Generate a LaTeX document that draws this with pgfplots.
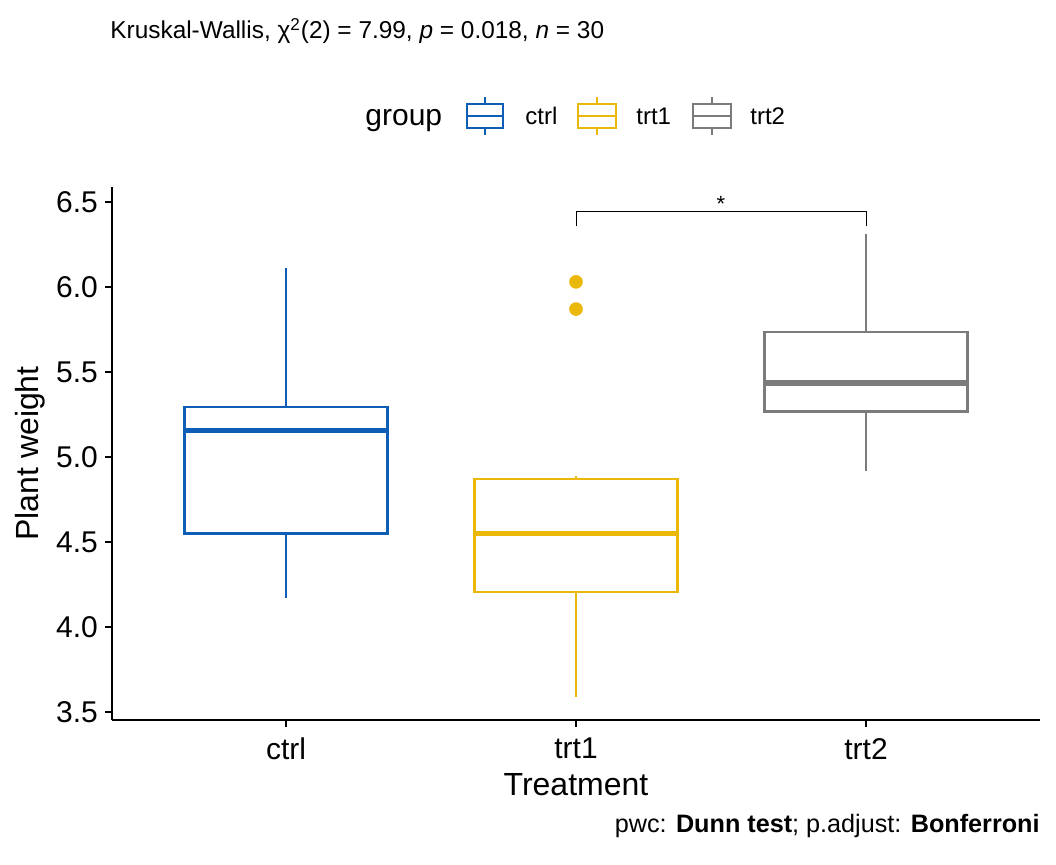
\documentclass[border=0pt]{standalone}
\usepackage{fontspec}
\setmainfont{Liberation Sans}
\usepackage{pgfplots}
\pgfplotsset{compat=1.18}

\definecolor{jcoblue}{RGB}{14,94,182}
\definecolor{jcoyellow}{RGB}{234,184,10}
\definecolor{jcogray}{RGB}{123,123,123}

% legend key: small box glyph
\newcommand{\legendkey}[3]{% colour, left x, right x
  \draw[#1, line width=1.1pt] (#2,368) rectangle (#3,380);
  \draw[#1, line width=1.1pt] (#2,374) -- (#3,374);
  \draw[#1, line width=1.1pt] ({(#2+#3)/2},380) -- ({(#2+#3)/2},383.5);
  \draw[#1, line width=1.1pt] ({(#2+#3)/2},368) -- ({(#2+#3)/2},364.5);
}

% box-and-whisker glyph in axis units
% #1 colour, #2 centre, #3 left, #4 right,
% #5 lower whisker, #6 lower quartile, #7 median, #8 upper quartile, #9 upper whisker
\newcommand{\tukeybox}[9]{%
  \addplot[#1, line width=1.1pt] coordinates {(#2,#6) (#2,#5)};
  \addplot[#1, line width=1.1pt] coordinates {(#2,#8) (#2,#9)};
  \addplot[#1, line width=1.1pt, fill=white, line join=miter]
    coordinates {(#3,#6) (#4,#6) (#4,#8) (#3,#8)} -- cycle;
  \addplot[#1, line width=2.6pt] coordinates {(#3,#7) (#4,#7)};
}

\begin{document}
\begin{tikzpicture}[x=1pt,y=1pt]
\path[use as bounding box] (0,0) rectangle (528,432);

% title
\node[anchor=base west, inner sep=0pt, font=\fontsize{12.2}{15}\selectfont]
  at (55,412.5) {Kruskal-Wallis, χ\textsuperscript{2}(2) = 7.99, \textit{p} = 0.018, \textit{n} = 30};

% legend
\node[anchor=base west, inner sep=0pt, font=\fontsize{15}{17}\selectfont] at (182.5,369) {group};
\legendkey{jcoblue}{233.5}{251.5}
\node[anchor=base west, inner sep=0pt, font=\fontsize{12}{14}\selectfont] at (262.5,369.5) {ctrl};
\legendkey{jcoyellow}{289}{308}
\node[anchor=base west, inner sep=0pt, font=\fontsize{12}{14}\selectfont] at (318,369.5) {trt1};
\legendkey{jcogray}{346.5}{365.5}
\node[anchor=base west, inner sep=0pt, font=\fontsize{12}{14}\selectfont] at (375,369.5) {trt2};

% caption
\node[anchor=base east, inner sep=0pt, font=\fontsize{12.6}{14}\selectfont]
  at (520,16) {pwc: \textbf{Dunn test}; p.adjust: \textbf{Bonferroni}};

\begin{axis}[
  at={(56pt,72pt)}, anchor=south west,
  scale only axis, width=464pt, height=266.5pt,
  xmin=0.4, xmax=3.6, ymin=3.453, ymax=6.588,
  axis lines=left, axis line style={-, line width=1.3pt, black},
  xtick={1,2,3}, xticklabels={ctrl,trt1,trt2},
  ytick={3.5,4,...,6.5},
  yticklabel style={/pgf/number format/fixed, /pgf/number format/fixed zerofill, /pgf/number format/precision=1},
  xticklabel style={yshift=-2pt},
  /pgf/number format/assume math mode=true,
  tick align=outside, major tick length=3.5pt,
  tick style={line width=1.3pt, black},
  ticklabel style={font=\fontsize{15}{17}\selectfont},
  xlabel={Treatment}, ylabel={Plant weight},
  label style={font=\fontsize{16}{18}\selectfont},
  xlabel style={at={(axis description cs:0.5,-0.122)}, anchor=center},
  ylabel style={at={(axis description cs:-0.0884,0.5)}, anchor=center, rotate=0},
  clip=false,
]
% ctrl
\tukeybox{jcoblue}{1}{0.65}{1.35}{4.17}{4.55}{5.155}{5.2925}{6.11}
% trt1
\tukeybox{jcoyellow}{2}{1.65}{2.35}{3.59}{4.2075}{4.55}{4.87}{4.89}
\addplot[only marks, mark=*, mark size=3.2pt, color=jcoyellow,
  mark options={fill=jcoyellow, draw=jcoyellow}] coordinates {(2,5.87) (2,6.03)};
% trt2
\tukeybox{jcogray}{3}{2.65}{3.35}{4.92}{5.2675}{5.435}{5.735}{6.31}
% significance bracket trt1 vs trt2
\addplot[black, line width=0.5pt] coordinates {(2,6.357) (2,6.441) (3,6.441) (3,6.357)};
\node[anchor=base, inner sep=0pt, font=\fontsize{11}{13}\selectfont] at (axis cs:2.5,6.441) {*};
\end{axis}
\end{tikzpicture}
\end{document}
